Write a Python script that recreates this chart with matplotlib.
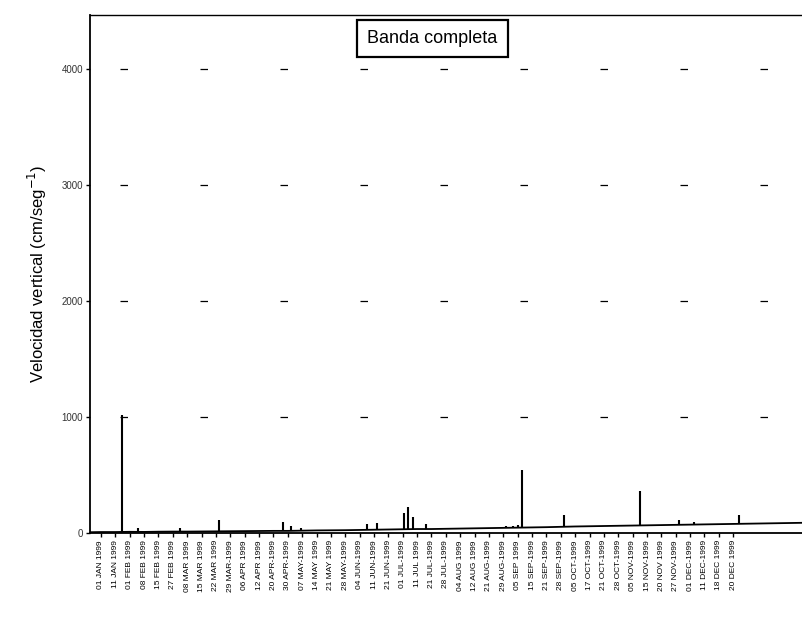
import numpy as np
import matplotlib
matplotlib.use('Agg')
import matplotlib.pyplot as plt

plt.rcParams['font.family'] = ['Liberation Sans', 'DejaVu Sans']

# etiquetas del eje x (fechas de muestreo)
fechas = ['01 JAN 1999', '11 JAN 1999', '01 FEB 1999', '08 FEB 1999', '15 FEB 1999',
          '27 FEB 1999', '08 MAR 1999', '15 MAR 1999', '22 MAR 1999', '29 MAR-1999',
          '06 APR 1999', '12 APR 1999', '20 APR-1999', '30 APR-1999', '07 MAY-1999',
          '14 MAY 1999', '21 MAY 1999', '28 MAY-1999', '04 JUN-1999', '11 JUN-1999',
          '21 JUN-1999', '01 JUL-1999', '11 JUL 1999', '21 JUL-1999', '28 JUL-1999',
          '04 AUG 1999', '12 AUG 1999', '21 AUG-1999', '29 AUG-1999', '05 SEP 1999',
          '15 SEP-1999', '21 SEP-1999', '28 SEP-1999', '05 OCT-1999', '17 OCT-1999',
          '21 OCT-1999', '28 OCT-1999', '05 NOV-1999', '15 NOV-1999', '20 NOV 1999',
          '27 NOV-1999', '01 DEC-1999', '11 DEC-1999', '18 DEC 1999', '20 DEC 1999']

# nivel base de la serie (una lectura por posicion de fecha, -1 .. 49)
base_x = list(range(-1, 50))
base_y = [8, 10, 10, 12, 11, 13, 14, 14, 15, 16, 17,
          18, 19, 20, 20, 22, 24, 25, 26, 28, 30,
          32, 34, 36, 36, 38, 40, 42, 44, 46, 48,
          50, 52, 55, 58, 60, 62, 64, 66, 68, 70,
          72, 74, 76, 78, 80, 82, 84, 86, 88, 90]

# picos (posicion, valor base, valor maximo)
pico_x = [1.46, 2.6, 5.5, 8.2, 12.7, 13.2, 13.9, 18.5, 19.2, 21.1, 21.4, 21.7,
          22.6, 27.5, 28.2, 28.7, 29.0, 29.3, 32.2, 37.5, 40.2, 41.3, 44.4]
pico_lo = [10, 12, 14, 16, 20, 20, 22, 30, 32, 36, 36, 38,
           38, 50, 52, 52, 55, 55, 62, 74, 78, 80, 84]
pico_hi = [1020, 45, 45, 110, 100, 60, 45, 80, 85, 175, 230, 140,
           80, 55, 60, 65, 70, 545, 155, 365, 110, 95, 155]

fig = plt.figure(figsize=(8.03, 6.2), dpi=100)
ax = fig.add_axes([0.112, 0.140, 0.887, 0.836])

ax.plot(base_x, base_y, color='black', lw=1.3)
ax.vlines(pico_x, pico_lo, pico_hi, color='black', lw=1.5)

ax.set_xlim(-0.77, 48.8)
ax.set_ylim(0, 4470)

ax.set_xticks(range(len(fechas)))
ax.set_xticklabels(fechas, rotation=90, fontsize=6)
ax.set_yticks([0, 1000, 2000, 3000, 4000])
ax.set_yticklabels(['0', '1000', '2000', '3000', '4000'], fontsize=7, color='#333333')
ax.tick_params(axis='both', direction='out', length=3, width=1, pad=2)

# restos de lineas de referencia (muy discontinuas)
for v in [1000, 2000, 3000, 4000]:
    ax.axhline(v, color='black', lw=0.9, linestyle=(40, (6, 58)))

ax.spines['right'].set_visible(False)
ax.spines['top'].set_linewidth(1.0)
for s in ['left', 'bottom']:
    ax.spines[s].set_linewidth(1.3)

ax.set_ylabel('Velocidad vertical (cm/seg$^{-1}$)', fontsize=12, labelpad=9)

ax.text(0.481, 0.954, 'Banda completa', transform=ax.transAxes, ha='center', va='center',
        fontsize=13, bbox=dict(boxstyle='square,pad=0.55', fc='white', ec='black', lw=1.6))

fig.savefig('out.png', dpi=100)
